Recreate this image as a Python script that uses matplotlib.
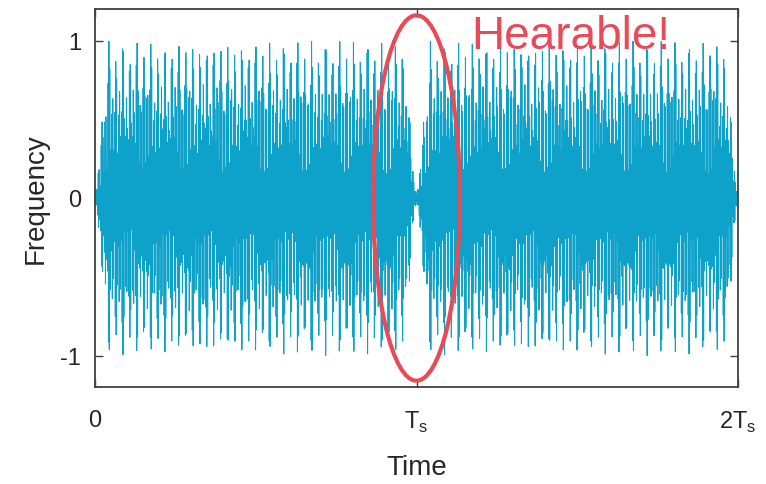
import numpy as np
import matplotlib.pyplot as plt
from matplotlib.patches import Ellipse

plt.rcParams['font.family'] = ['Liberation Sans', 'DejaVu Sans']
plt.rcParams['mathtext.fontset'] = 'custom'
plt.rcParams['mathtext.rm'] = 'Liberation Sans'

# one clip lasts Ts and is played twice
ts = 1.0
n_clips = 2
fs = 24000                              # samples per Ts
tones = [330.0, 376.0, 422.0, 398.3]    # cycles per Ts
gains = [1.0, 0.35, 1.0, 0.15]
fade = 0.04                             # linear fade in / out, in Ts

x_ticks = [0, 1, 2]
x_labels = ['0', r'T$_\mathrm{s}$', r'2T$_\mathrm{s}$']
y_ticks = [-1, 0, 1]
y_labels = ['-1', '0', '1']

line_color = '#0ea1c9'
mark_color = '#e84a58'


def clip(t):
    y = sum(g * np.sin(2 * np.pi * f * t) for f, g in zip(tones, gains))
    env = np.clip(np.minimum(t, ts - t) / fade, 0, 1)
    return env * y


t_one = np.linspace(0, ts, fs + 1)
y_one = clip(t_one)
y_one /= np.abs(y_one).max()
t = np.concatenate([t_one + k * ts for k in range(n_clips)])
y = np.concatenate([y_one for k in range(n_clips)])

fig = plt.figure(figsize=(7.66, 4.85), dpi=100)
ax = fig.add_axes([95 / 766, 1 - 388 / 485, 643 / 766, 378 / 485])

ax.plot(t, y, color=line_color, lw=0.75)

ax.set_xlim(0, n_clips * ts)
ax.set_ylim(-1.2, 1.2)
ax.set_xticks(x_ticks)
ax.set_xticklabels(x_labels)
ax.set_yticks(y_ticks)
ax.set_yticklabels(y_labels)
ax.tick_params(direction='in', length=6, width=1, colors='#404040',
               labelcolor='#262626', labelsize=17, top=True, right=True)
ax.tick_params(axis='x', pad=16)
ax.tick_params(axis='y', pad=10)
for s in ax.spines.values():
    s.set_color('#404040')
    s.set_linewidth(1.3)

ax.set_xlabel('Time', fontsize=20, color='#262626', labelpad=14)
ax.set_ylabel('Frequency', fontsize=20, color='#262626', labelpad=8)

# ring around the gap between the two clips
ax.add_patch(Ellipse((ts, 0), 0.27, 2.32, fill=False, ec=mark_color, lw=3,
                     zorder=5, clip_on=False))
ax.text(1.17, 0.95, 'Hearable!', color=mark_color, fontsize=33,
        ha='left', va='baseline', zorder=6)

fig.savefig('out.png', dpi=100)
